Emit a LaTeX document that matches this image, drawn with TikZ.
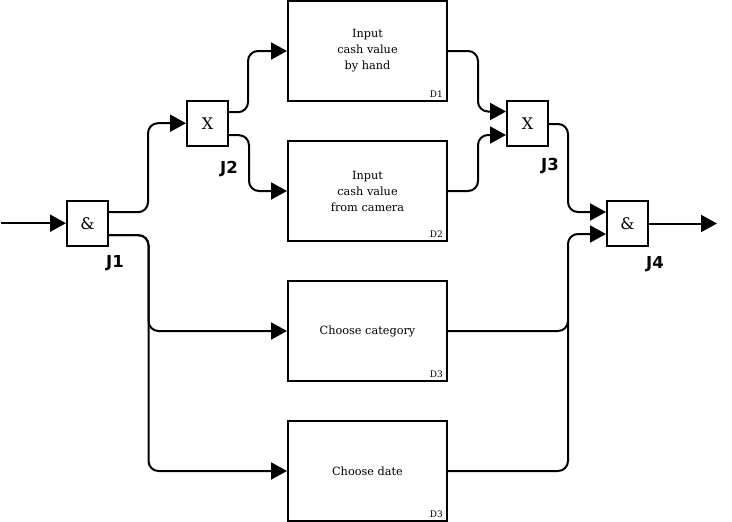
\documentclass[tikz,border=0pt]{standalone}
\usepackage{fontspec}
\setmainfont{DejaVu Serif}
\newfontfamily\jfont{DejaVu Sans}
\usetikzlibrary{arrows.meta,calc}
\begin{document}
\begin{tikzpicture}[x=1pt,y=-1pt,
  procbox/.style={draw,line width=2pt,minimum width=159pt,minimum height=100pt,inner sep=0pt,align=center,font=\fontsize{11.3}{16}\selectfont},
  junc/.style={draw,line width=2pt,minimum width=41pt,minimum height=45pt,inner sep=0pt,font=\fontsize{16}{18}\selectfont},
  jlabel/.style={font=\jfont\bfseries\fontsize{16.5}{18}\selectfont},
  dlabel/.style={font=\fontsize{9}{10}\selectfont,anchor=south east,inner sep=0pt},
  conn/.style={line width=2pt,rounded corners=10pt,-{Triangle[length=16pt,width=17pt]}},
  plain/.style={line width=2pt,rounded corners=10pt}]
\useasboundingbox (0,0) rectangle (732,522);
% process boxes
\node[procbox] (d1) at (367.5,51) {Input\\cash value\\by hand};
\node[procbox] (d2) at (367.5,191) {Input\\cash value\\from camera};
\node[procbox] (d3) at (367.5,331) {Choose category};
\node[procbox] (d4) at (367.5,471) {Choose date};
\node[dlabel] (l1) at ($(d1.south east)+(-5,-4)$) {D1};
\node[dlabel] (l2) at ($(d2.south east)+(-5,-4)$) {D2};
\node[dlabel] (l3) at ($(d3.south east)+(-5,-4)$) {D3};
\node[dlabel] (l4) at ($(d4.south east)+(-5,-4)$) {D3};
% junctions
\node[junc] (j1) at (87.5,223.2) {\&};
\node[junc] (j2) at (207.5,123.2) {X};
\node[junc] (j3) at (527.5,123.5) {X};
\node[junc] (j4) at (627.5,223.5) {\&};
\node[jlabel] (t1) at (115,263) {J1};
\node[jlabel] (t2) at (229,169) {J2};
\node[jlabel] (t3) at (550,166.5) {J3};
\node[jlabel] (t4) at (655,264) {J4};
% free ends
\coordinate (in) at (1,223.2);
\coordinate (out) at (717,223.5);
% connectors
\draw[conn] (in) -- (j1.west);
\draw[conn] ($(j1.east)+(0,-11)$) -- ++(39,0) |- (j2.west);
\draw[conn] ($(j1.east)+(0,12)$) -- ++(39.5,0) |- (d3.west);
\draw[conn] ($(j1.east)+(0,12)$) -- ++(39.5,0) |- (d4.west);
\draw[conn] ($(j2.east)+(0,-11)$) -- ++(19,0) |- (d1.west);
\draw[conn] ($(j2.east)+(0,12)$) -- ++(20,0) |- (d2.west);
\draw[conn] (d1.east) -- ++(30,0) |- ($(j3.west)+(0,-12)$);
\draw[conn] (d2.east) -- ++(30,0) |- ($(j3.west)+(0,11.5)$);
\draw[conn] ($(j3.east)+(0,0.5)$) -- ++(19,0) |- ($(j4.west)+(0,-11.5)$);
\draw[conn] (d3.east) -- ++(120,0) |- ($(j4.west)+(0,10.5)$);
\draw[plain] (d4.east) -- ++(120,0) -- ++(0,-150);
\draw[conn] (j4.east) -- (out);
\end{tikzpicture}
\end{document}
